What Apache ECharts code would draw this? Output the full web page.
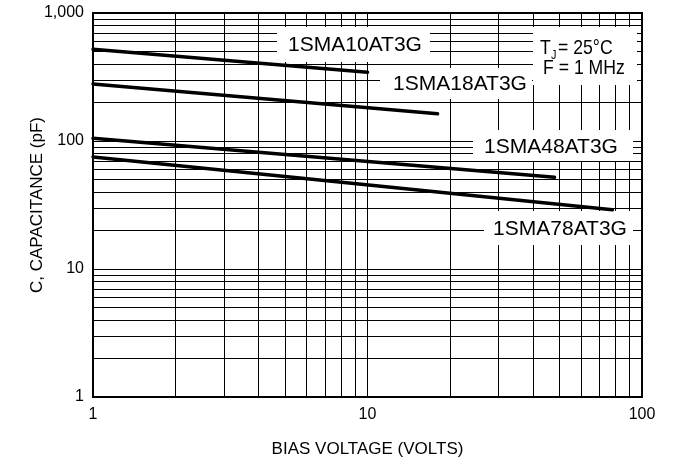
<!DOCTYPE html>
<html>
<head>
<meta charset="utf-8">
<script src="https://cdn.jsdelivr.net/npm/echarts@6/dist/echarts.min.js"></script>
<style>
  html, body { margin: 0; padding: 0; background: #fff; }
  #chart { width: 673px; height: 466px; }
</style>
</head>
<body>
<div id="chart"></div>
<script>
// bias voltage (V) / capacitance (pF)
var v10 = [1, 10];
var c10 = [520, 344];
var v18 = [1, 18];
var c18 = [279, 163];
var v48 = [1, 48];
var c48 = [105, 52];
var v78 = [1, 78];
var c78 = [75, 29];

var seriesNames = ['1SMA10AT3G', '1SMA18AT3G', '1SMA48AT3G', '1SMA78AT3G'];

// tick labels
var xTicks = [1, 10, 100];
var xTickLabels = ['1', '10', '100'];
var yTicks = [1, 10, 100, 1000];
var yTickLabels = ['1', '10', '100', '1,000'];

// grid lines between decades
var xGrid = [2, 3, 4, 5, 6, 7, 8, 9, 10, 20, 30, 40, 50, 60, 70, 80, 90];
var yGrid = [2, 3, 4, 5, 6, 7, 8, 9, 10, 20, 30, 40, 50, 60, 70, 80, 90,
  100, 200, 300, 400, 500, 600, 700, 800, 900];

var FONT = '"Liberation Sans", Arial, sans-serif';

function pairs(xs, ys) {
  return xs.map(function (x, i) { return [x, ys[i]]; });
}

function tickLabel(ticks, labels) {
  return function (val) {
    var i = ticks.indexOf(Math.round(val));
    return i < 0 ? '' : labels[i];
  };
}

var chart = echarts.init(document.getElementById('chart'), null, { renderer: 'canvas' });

var gridLines = [];
xGrid.forEach(function (v) { gridLines.push({ xAxis: v }); });
yGrid.forEach(function (v) { gridLines.push({ yAxis: v }); });

function curve(name, xs, ys) {
  return {
    name: name,
    type: 'line',
    data: pairs(xs, ys),
    showSymbol: false,
    z: 60,
    lineStyle: { color: '#000', width: 3.5, cap: 'round' },
    animation: false
  };
}

// white boxes behind the labels
function box(x, y, w, h) {
  return { type: 'rect', z: 50, shape: { x: x, y: y, width: w, height: h }, style: { fill: '#fff' } };
}
function label(text, x, y, size) {
  return {
    type: 'text', z: 51, x: x, y: y,
    style: { text: text, fill: '#000', font: (size || 21) + 'px ' + FONT, textAlign: 'center', textVerticalAlign: 'middle' }
  };
}
// condition text is set a little condensed
function plain(text, x, y, size) {
  return {
    type: 'text', z: 51, x: x, y: y, scaleX: 0.84,
    style: { text: text, fill: '#000', font: size + 'px ' + FONT, textVerticalAlign: 'middle' }
  };
}

var option = {
  animation: false,
  backgroundColor: '#fff',
  grid: { left: 93, right: 31, top: 13, bottom: 69, show: true, borderColor: '#000', borderWidth: 2 },
  xAxis: {
    type: 'log', logBase: 10, min: 1, max: 100,
    name: 'BIAS VOLTAGE (VOLTS)',
    nameLocation: 'middle', nameGap: 44, nameMoveOverlap: false,
    nameTextStyle: { fontFamily: FONT, fontSize: 17, color: '#000' },
    axisLine: { show: true, lineStyle: { color: '#000', width: 2 } },
    axisTick: { show: false },
    splitLine: { show: false },
    axisLabel: { color: '#000', fontFamily: FONT, fontSize: 16, margin: 10, formatter: tickLabel(xTicks, xTickLabels) }
  },
  yAxis: {
    type: 'log', logBase: 10, min: 1, max: 1000,
    name: 'C, CAPACITANCE (pF)',
    nameLocation: 'middle', nameGap: 47, nameMoveOverlap: false,
    nameTextStyle: { fontFamily: FONT, fontSize: 17, color: '#000' },
    axisLine: { show: true, lineStyle: { color: '#000', width: 2 } },
    axisTick: { show: false },
    splitLine: { show: false },
    axisLabel: { color: '#000', fontFamily: FONT, fontSize: 16, margin: 9, formatter: tickLabel(yTicks, yTickLabels) }
  },
  series: [
    {
      type: 'line', data: [], z: 1, silent: true,
      markLine: {
        silent: true, symbol: ['none', 'none'], animation: false,
        label: { show: false },
        lineStyle: { color: '#000', width: 1, type: 'solid' },
        emphasis: { disabled: true },
        data: gridLines
      }
    },
    curve(seriesNames[0], v10, c10),
    curve(seriesNames[1], v18, c18),
    curve(seriesNames[2], v48, c48),
    curve(seriesNames[3], v78, c78)
  ],
  graphic: {
    elements: [
      box(277, 27, 153, 35), label(seriesNames[0], 355, 45),
      box(380, 68, 152, 31), label(seriesNames[1], 460, 84),
      box(473, 130, 160, 31), label(seriesNames[2], 551, 147),
      box(484, 211, 149, 34), label(seriesNames[3], 560, 229),
      box(533, 27, 104, 58),
      plain('T', 540, 48, 21),
      plain('J', 551, 55, 13),
      plain('= 25°C', 558, 48, 21),
      plain('F = 1 MHz', 543, 68, 21)
    ]
  }
};

chart.setOption(option);
</script>
</body>
</html>
